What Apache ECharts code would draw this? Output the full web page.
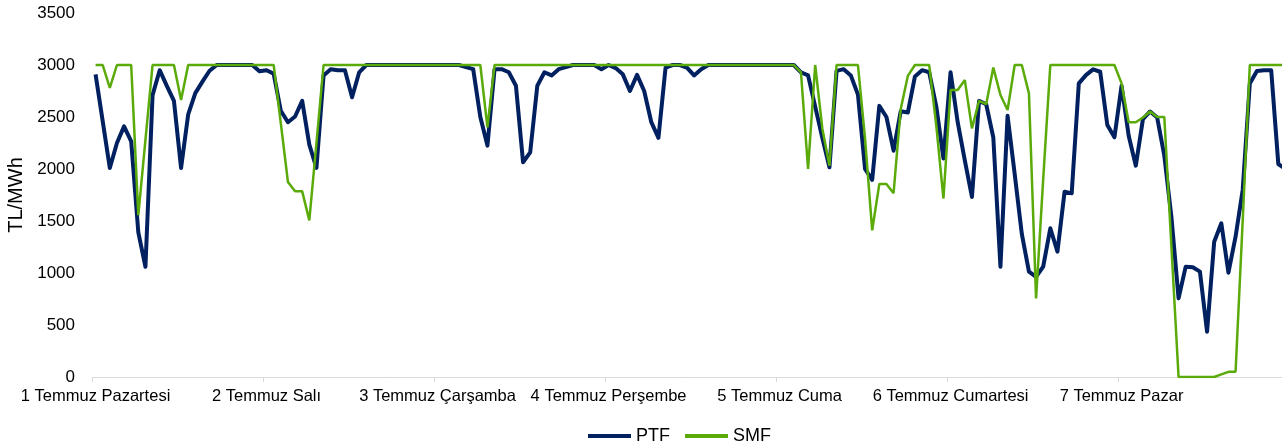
<!DOCTYPE html>
<html>
<head>
<meta charset="utf-8">
<script src="https://cdn.jsdelivr.net/npm/echarts@6/dist/echarts.min.js"></script>
<style>
html,body{margin:0;padding:0;background:#fff;}
#c{width:1282px;height:445px;}
</style>
</head>
<body>
<div id="c"></div>
<script>
const days = ["1 Temmuz Pazartesi","2 Temmuz Salı","3 Temmuz Çarşamba","4 Temmuz Perşembe","5 Temmuz Cuma","6 Temmuz Cumartesi","7 Temmuz Pazar"];
const hours = ["00","01","02","03","04","05","06","07","08","09","10","11","12","13","14","15","16","17","18","19","20","21","22","23"];
const yTicks = [0,500,1000,1500,2000,2500,3000,3500];

const ptf1 = [2910,2460,2010,2250,2410,2265,1390,1060,2710,2950,2800,2655,2010,2525,2730,2840,2945,3000,3000,3000,3000,3000,3000,2940];
const ptf2 = [2950,2915,2560,2450,2505,2655,2235,2010,2900,2960,2950,2950,2690,2930,3000,3000,3000,3000,3000,3000,3000,3000,3000,3000];
const ptf3 = [3000,3000,3000,3000,2980,2960,2500,2225,2960,2960,2930,2800,2065,2160,2800,2930,2900,2960,2980,3000,3000,3000,3000,2960];
const ptf4 = [3000,2970,2910,2750,2905,2750,2450,2300,2975,3000,3000,2975,2900,2960,3000,3000,3000,3000,3000,3000,3000,3000,3000,3000];
const ptf5 = [3000,3000,3000,2930,2900,2600,2300,2016,2943,2960,2900,2715,2000,1895,2607,2500,2176,2555,2543,2890,2950,2930,2600,2100];
const ptf6 = [2930,2450,2083,1731,2655,2623,2303,1061,2511,1952,1376,1013,963,1061,1430,1205,1782,1766,2823,2903,2958,2935,2423,2305];
const ptf7 = [2800,2320,2032,2480,2553,2495,2128,1537,756,1061,1055,1013,436,1301,1478,1003,1349,1798,2823,2943,2950,2950,2048,2000];

const smf1 = [3000,3000,2780,3000,3000,3000,1557,2280,3000,3000,3000,3000,2663,3000,3000,3000,3000,3000,3000,3000,3000,3000,3000,3000];
const smf2 = [3000,3000,2440,1875,1785,1785,1506,2250,3000,3000,3000,3000,3000,3000,3000,3000,3000,3000,3000,3000,3000,3000,3000,3000];
const smf3 = [3000,3000,3000,3000,3000,3000,3000,2400,3000,3000,3000,3000,3000,3000,3000,3000,3000,3000,3000,3000,3000,3000,3000,3000];
const smf4 = [3000,3000,3000,3000,3000,3000,3000,3000,3000,3000,3000,3000,3000,3000,3000,3000,3000,3000,3000,3000,3000,3000,3000,3000];
const smf5 = [3000,3000,3000,2930,2000,3000,2390,2032,3000,3000,3000,3000,2290,1410,1856,1856,1767,2575,2895,3000,3000,3000,2415,1716];
const smf6 = [2760,2760,2855,2391,2655,2623,2975,2711,2567,3000,3000,2727,756,1900,3000,3000,3000,3000,3000,3000,3000,3000,3000,3000];
const smf7 = [2823,2450,2450,2495,2553,2500,2500,1250,0,0,0,0,0,0,25,50,50,1500,3000,3000,3000,3000,3000,3000];

const categories = [];
days.forEach(d => hours.forEach((h, k) => categories.push(k === 0 ? d : d + " " + h + ":00")));
const ptf = [].concat(ptf1, ptf2, ptf3, ptf4, ptf5, ptf6, ptf7);
const smf = [].concat(smf1, smf2, smf3, smf4, smf5, smf6, smf7);

const FONT = "Liberation Sans, Arial, sans-serif";
const chart = echarts.init(document.getElementById('c'), null, {renderer: 'canvas'});
chart.setOption({
  animation: false,
  backgroundColor: '#fff',
  grid: {left: 92, top: 13, width: 1197, height: 364, containLabel: false, outerBoundsMode: 'none'},
  legend: {
    data: ['PTF', 'SMF'],
    left: 583, top: 422,
    icon: 'rect',
    itemWidth: 43, itemHeight: 4, itemGap: 15,
    textStyle: {fontFamily: FONT, fontSize: 18, color: '#000'}
  },
  xAxis: {
    type: 'category',
    data: categories,
    boundaryGap: true,
    axisLine: {lineStyle: {color: '#d9d9d9', width: 1}},
    axisTick: {show: true, interval: 23, length: 5, lineStyle: {color: '#d9d9d9'}},
    axisLabel: {interval: 23, margin: 11, fontFamily: FONT, fontSize: 16.5, color: '#000',
      formatter: (v, i) => (i % 24 === 0 ? days[i / 24] : '')}
  },
  yAxis: {
    type: 'value',
    min: yTicks[0], max: yTicks[yTicks.length - 1], interval: 500,
    name: 'TL/MWh', nameLocation: 'middle', nameRotate: 90, nameGap: 66,
    nameTextStyle: {fontFamily: FONT, fontSize: 20, color: '#000'},
    splitLine: {show: false},
    axisLine: {show: false},
    axisTick: {show: false},
    axisLabel: {margin: 17, fontFamily: FONT, fontSize: 17, color: '#000', formatter: v => String(v)}
  },
  series: [
    {name: 'PTF', type: 'line', data: ptf, symbol: 'none', lineStyle: {color: '#002060', width: 4, join: 'round'}, itemStyle: {color: '#002060'}},
    {name: 'SMF', type: 'line', data: smf, symbol: 'none', lineStyle: {color: '#5aaa0a', width: 2.5}, itemStyle: {color: '#5aaa0a'}}
  ]
});
</script>
</body>
</html>
